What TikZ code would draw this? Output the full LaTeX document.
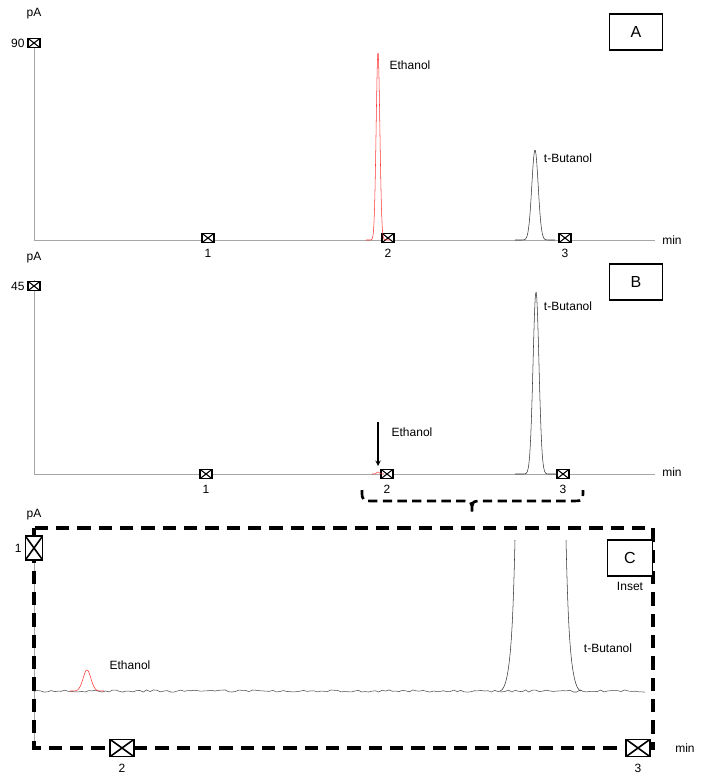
\documentclass[tikz,border=0pt]{standalone}
\usepackage{fontspec}
\setmainfont{Liberation Sans}
\usetikzlibrary{positioning}
\tikzset{
  x=0.75pt, y=-0.75pt,
  every node/.style={font=\fontsize{9}{10}\selectfont, inner sep=1pt},
  axis/.style={gray!70, line width=0.6pt},
  trace/.style={gray!40!black, line width=0.4pt},
  ethtrace/.style={red!80, line width=0.4pt},
  xbox/.style={draw, thick, fill=white, minimum width=9pt, minimum height=7pt, inner sep=0pt,
    path picture={\draw (path picture bounding box.south west)--(path picture bounding box.north east)
      (path picture bounding box.north west)--(path picture bounding box.south east);}},
  bigbox/.style={xbox, line width=1.2pt, minimum width=18pt, minimum height=13pt},
  tallbox/.style={xbox, line width=1.2pt, minimum width=13pt, minimum height=18pt},
  panel/.style={draw, thick, fill=white, minimum width=40pt, minimum height=27pt, font=\fontsize{12}{13}\selectfont},
  inset/.style={line width=2.4pt, dash pattern=on 10pt off 6pt}
}
\begin{document}
\begin{tikzpicture}
  \useasboundingbox (0,0) rectangle (702,782);
  \pgfmathsetseed{7}
  % panel A
  \draw[axis] (34,40) -- (34,240) -- (655,240);
  \node (yA) at (34,14) {pA};
  \node[xbox] (tA) at (34,43) {};
  \node[left=1pt of tA] {90};
  \node[panel] (pA) at (636,32) {A};
  \foreach \x/\t in {208/1,388/2,565/3} {
    \node[xbox] (mA\t) at (\x,238) {};
    \node[below=3pt of mA\t] {\t};
  }
  \node (minA) at (672,240) {min};
  \draw[ethtrace] plot[domain=366:390, samples=60] (\x, {240-188*exp(-((\x-378)/2.6)^2)});
  \draw[trace] plot[domain=515:555, samples=60] (\x, {240-90*exp(-((\x-535)/4.5)^2)});
  \node (eA) at (410,65) {Ethanol};
  \node (bA) at (568,158) {t-Butanol};
  % panel B
  \draw[axis] (34,280) -- (34,474) -- (655,474);
  \node (yB) at (34,258) {pA};
  \node[xbox] (tB) at (34,286) {};
  \node[left=1pt of tB] {45};
  \node[panel] (pB) at (636,282) {B};
  \foreach \x/\t in {206/1,387/2,563/3} {
    \node[xbox] (mB\t) at (\x,474) {};
    \node[below=3pt of mB\t] {\t};
  }
  \node (minB) at (672,472) {min};
  \draw[ethtrace] plot[domain=372:384, samples=20] (\x, {474-2*exp(-((\x-378)/2)^2)});
  \draw[trace] plot[domain=515:558, samples=80] (\x, {474-182*exp(-((\x-536)/4.2)^2)});
  \node (bB) at (568,306) {t-Butanol};
  \node (eB) at (412,432) {Ethanol};
  \coordinate (aB) at (378,422);
  \coordinate (hB) at (378,466);
  \draw[-stealth, thick] (aB) -- (hB);
  % brace
  \coordinate (brL) at (362,490);
  \coordinate (brR) at (583,490);
  \coordinate (brM) at (472,512);
  \draw[line width=2pt, dash pattern=on 7pt off 4pt]
    (brL) .. controls (362,501) .. (375,501) -- (460,501) .. controls (472,501) .. (brM)
    .. controls (472,501) .. (484,501) -- (570,501) .. controls (583,501) .. (brR);
  % panel C
  \draw[axis] (34,548) -- (34,748);
  \draw[inset] (34,528) rectangle (653,748);
  \node (yC) at (34,515) {pA};
  \node[tallbox] (tC) at (34,548) {};
  \node[left=1pt of tC] {1};
  \node[panel, minimum width=34pt] (pC) at (630,558) {C};
  \node[below=3pt of pC] (iC) {Inset};
  \foreach \x/\t in {122/2,638/3} {
    \node[bigbox] (mC\t) at (\x,748) {};
    \node[below=4pt of mC\t] {\t};
  }
  \node (minC) at (685,748) {min};
  \draw[gray!60!black, line width=0.4pt] plot[domain=34:645, samples=180] (\x, {691+1.1*rand});
  \draw[ethtrace] plot[domain=70:104, samples=40] (\x, {691-21*exp(-((\x-87)/5.5)^2)});
  \draw[trace] (500,691) .. controls (511,689) and (513,620) .. (515,540);
  \draw[trace] (566,540) .. controls (568,620) and (570,689) .. (581,691);
  \node (eC) at (130,665) {Ethanol};
  \node (bC) at (608,648) {t-Butanol};
\end{tikzpicture}
\end{document}
